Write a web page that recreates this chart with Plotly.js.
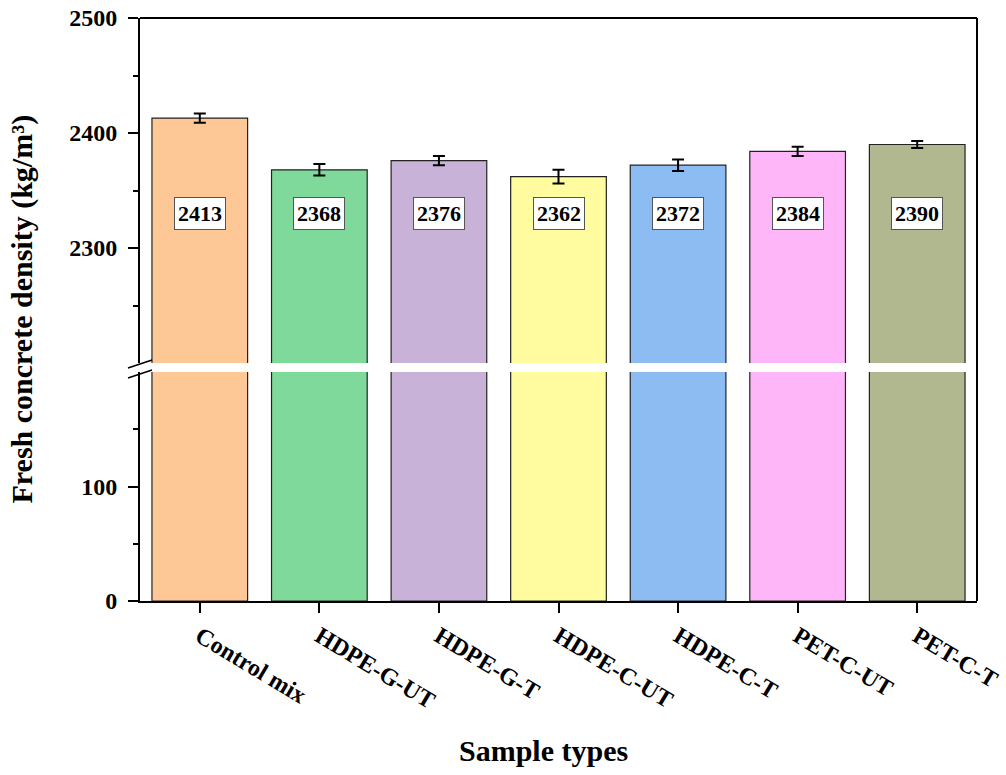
<!DOCTYPE html>
<html>
<head>
<meta charset="utf-8">
<script src="https://cdn.plot.ly/plotly-3.0.1.min.js"></script>
<style>
  body { margin: 0; background: #fff; }
  #chart { width: 1006px; height: 775px; }
</style>
</head>
<body>
<div id="chart"></div>
<script>
// Sample types and measured fresh densities (kg/m3)
var samples = ['Control mix', 'HDPE-G-UT', 'HDPE-G-T', 'HDPE-C-UT', 'HDPE-C-T', 'PET-C-UT', 'PET-C-T'];
var density = [2413, 2368, 2376, 2362, 2372, 2384, 2390];
var densityErr = [4, 5, 4, 6, 5, 4, 3];
var barColors = ['#FEC896', '#7FD99B', '#C8B2D8', '#FEFC9E', '#8CBCF2', '#FEB6F8', '#B1B890'];

var serif = '"Liberation Serif", "Times New Roman", serif';

// plot area in pixels (used for the break marks)
var L = 140, R = 977, T = 18, B = 601;
function px(x) { return (x - L) / (R - L); }
function py(y) { return (B - y) / (B - T); }

// lower segment (0 - 200) : no error bars
var lowerBars = {
    x: samples,
    y: density,
    type: 'bar',
    xaxis: 'x',
    yaxis: 'y',
    width: 0.8,
    marker: { color: barColors, line: { color: '#222', width: 1.2 } },
    hoverinfo: 'skip'
};

// upper segment (2200 - 2500) : with error bars
var upperBars = {
    x: samples,
    y: density,
    type: 'bar',
    xaxis: 'x',
    yaxis: 'y2',
    width: 0.8,
    marker: { color: barColors, line: { color: '#222', width: 1.2 } },
    error_y: { type: 'data', array: densityErr, visible: true, color: '#000', thickness: 2, width: 6 },
    hoverinfo: 'skip'
};

// value labels in white boxes
var labelY = 2330;
var labels = samples.map(function (s, i) {
    return {
        x: s, y: labelY, xref: 'x', yref: 'y2',
        text: String(density[i]),
        showarrow: false,
        font: { family: serif, size: 22, color: '#000', weight: 'bold' },
        bgcolor: '#fff',
        bordercolor: '#555',
        borderwidth: 1,
        borderpad: 3
    };
});

labels.push({
    x: px(21), y: 0.5, xref: 'paper', yref: 'paper',
    text: 'Fresh concrete density (kg/m³)',
    textangle: -90, showarrow: false,
    xanchor: 'center', yanchor: 'middle',
    font: { family: serif, size: 30, color: '#000', weight: 'bold' }
});
labels.push({
    x: px(543), y: py(750), xref: 'paper', yref: 'paper',
    text: 'Sample types',
    showarrow: false,
    xanchor: 'center', yanchor: 'middle',
    font: { family: serif, size: 30, color: '#000', weight: 'bold' }
});

var tickFont = { family: serif, size: 24, color: '#000', weight: 'bold' };

var layout = {
    width: 1006,
    height: 775,
    margin: { l: L, r: 1006 - R, t: T, b: 775 - B },
    paper_bgcolor: '#fff',
    plot_bgcolor: '#fff',
    showlegend: false,
    xaxis: {
        range: [-0.5, 6.5],
        showline: true, linecolor: '#000', linewidth: 2,
        ticks: 'outside', ticklen: 10, tickwidth: 2, tickcolor: '#000',
        tickangle: 31,
        tickfont: { family: serif, size: 24, color: '#000', weight: 'bold' },
        showgrid: false, zeroline: false,
        anchor: 'y'
    },
    yaxis: {
        domain: [0, py(372)],
        range: [0, 200],
        tickvals: [0, 100],
        showline: true, linecolor: '#000', linewidth: 2,
        ticks: 'outside', ticklen: 10, tickwidth: 2, tickcolor: '#000',
        minor: { tickvals: [50, 150], ticks: 'outside', ticklen: 5, tickwidth: 2, tickcolor: '#000' },
        ticklabelstandoff: 6,
        tickfont: tickFont,
        showgrid: false, zeroline: false,
        anchor: 'x'
    },
    yaxis2: {
        domain: [py(363), 1],
        range: [2200, 2500],
        tickvals: [2300, 2400, 2500],
        showline: true, linecolor: '#000', linewidth: 2,
        ticks: 'outside', ticklen: 10, tickwidth: 2, tickcolor: '#000',
        minor: { tickvals: [2250, 2350, 2450], ticks: 'outside', ticklen: 5, tickwidth: 2, tickcolor: '#000' },
        ticklabelstandoff: 6,
        tickfont: tickFont,
        showgrid: false, zeroline: false,
        anchor: 'x'
    },
    annotations: labels,
    shapes: [
        // top and right border
        { type: 'line', xref: 'paper', yref: 'paper', x0: 0, x1: 1, y0: 1, y1: 1, line: { color: '#000', width: 2 } },
        { type: 'line', xref: 'paper', yref: 'paper', x0: 1, x1: 1, y0: 0, y1: 1, line: { color: '#000', width: 2 } },
        // break marks on the left axis
        { type: 'line', xref: 'paper', yref: 'paper', x0: px(128), x1: px(152), y0: py(368), y1: py(360), line: { color: '#000', width: 1.5 } },
        { type: 'line', xref: 'paper', yref: 'paper', x0: px(128), x1: px(152), y0: py(378), y1: py(370), line: { color: '#000', width: 1.5 } }
    ]
};

Plotly.newPlot('chart', [lowerBars, upperBars], layout, { displayModeBar: false, staticPlot: true });
</script>
</body>
</html>
